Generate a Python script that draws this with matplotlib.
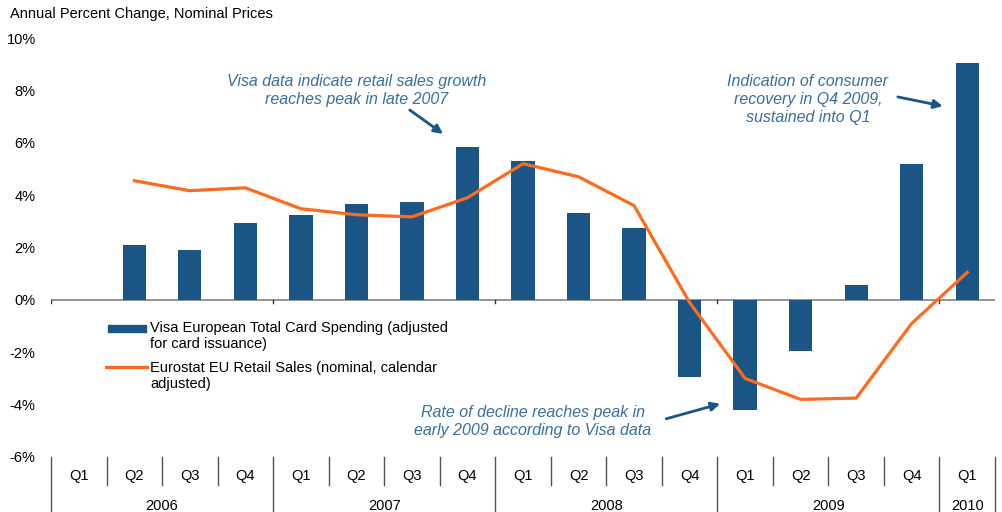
import numpy as np
import matplotlib
matplotlib.use("Agg")
import matplotlib.pyplot as plt
from matplotlib.patches import Rectangle
from matplotlib.lines import Line2D

plt.rcParams['font.family'] = ['Liberation Sans', 'DejaVu Sans']

# ----------------------------
# Data
# ----------------------------
quarters = ['Q1', 'Q2', 'Q3', 'Q4', 'Q1', 'Q2', 'Q3', 'Q4', 'Q1', 'Q2', 'Q3', 'Q4',
            'Q1', 'Q2', 'Q3', 'Q4', 'Q1']
years = ['2006', '2007', '2008', '2009', '2010']
year_counts = [4, 4, 4, 4, 1]

visa = [np.nan, 2.1, 1.9, 2.95, 3.25, 3.67, 3.75, 5.85, 5.3, 3.33, 2.75,
        -2.95, -4.2, -1.95, 0.55, 5.2, 9.03]
eurostat = [np.nan, 4.55, 4.17, 4.28, 3.48, 3.25, 3.17, 3.9, 5.2, 4.7, 3.6,
            -0.1, -3.0, -3.8, -3.75, -0.9, 1.05]

yticks = [-6, -4, -2, 0, 2, 4, 6, 8, 10]

visa_label = 'Visa European Total Card Spending (adjusted\nfor card issuance)'
euro_label = 'Eurostat EU Retail Sales (nominal, calendar\nadjusted)'

bar_col = '#1a5586'
line_col = '#ff6a1c'
note_col = '#3a6f9e'
fs = 10.5
note_fs = 11.5

# ----------------------------
# Plot
# ----------------------------
W, H = 1003, 512
fig = plt.figure(figsize=(W/100, H/100), dpi=100)
ax = fig.add_axes([51/W, 1-457/H, (995-51)/W, (457-38)/H])

def px(x, y):
    # figure pixel position (from top-left) -> figure fraction
    return x / W, 1 - y / H

x = np.arange(len(quarters))
ax.bar(x, visa, width=0.42, color=bar_col, zorder=2)
ax.plot(x, eurostat, color=line_col, linewidth=2.3, zorder=3)

ax.set_xlim(-0.5, len(quarters) - 0.5)
ax.set_ylim(-6, 10)
ax.set_yticks(yticks)
ax.set_yticklabels(['%d%%' % v for v in yticks], fontsize=fs)
ax.tick_params(axis='y', length=0, pad=11)
ax.set_xticks([])
for s in ax.spines.values():
    s.set_visible(False)

# zero line with small ticks at year boundaries
ax.axhline(0, color='#808080', linewidth=1.2, zorder=1)
bounds = np.cumsum([0] + year_counts) - 0.5
for b in bounds[:-1]:
    ax.plot([b, b], [0, -0.12], color='#333333', linewidth=1, zorder=1)

fig.text(*px(10, 14), 'Annual Percent Change, Nominal Prices', fontsize=fs,
         ha='left', va='center')

# category axis below the plot
trans = ax.get_xaxis_transform()
for i, q in enumerate(quarters):
    ax.text(i, -0.045, q, transform=trans, ha='center', va='center', fontsize=fs)
for i in range(len(quarters) + 1):
    b = i - 0.5
    if b in bounds:
        continue
    ax.plot([b, b], [0, -0.067], transform=trans, color='#555555', linewidth=1, clip_on=False)
for b in bounds:
    ax.plot([b, b], [0, -0.132], transform=trans, color='#555555', linewidth=1, clip_on=False)
for k, yr in enumerate(years):
    ax.text((bounds[k] + bounds[k+1]) / 2, -0.117, yr, transform=trans,
            ha='center', va='center', fontsize=fs)

# annotations
arrow = dict(arrowstyle='-|>', color=bar_col, lw=2, mutation_scale=13, shrinkA=0, shrinkB=0)
ax.text(5.0, 8.0, 'Visa data indicate retail sales growth\nreaches peak in late 2007',
        ha='center', va='center', fontsize=note_fs, style='italic', color=note_col,
        linespacing=1.25)
ax.annotate('', xy=(6.56, 6.34), xytext=(5.96, 7.25), arrowprops=arrow)

ax.text(13.13, 7.67, 'Indication of consumer\nrecovery in Q4 2009,\nsustained into Q1',
        ha='center', va='center', fontsize=note_fs, style='italic', color=note_col,
        linespacing=1.25)
ax.annotate('', xy=(15.56, 7.4), xytext=(14.75, 7.75), arrowprops=arrow)

ax.text(8.18, -4.64, 'Rate of decline reaches peak in\nearly 2009 according to Visa data',
        ha='center', va='center', fontsize=note_fs, style='italic', color=note_col,
        linespacing=1.25)
ax.annotate('', xy=(11.55, -3.97), xytext=(10.58, -4.54), arrowprops=arrow)

# legend (handles aligned with the first line of each label)
x0, y0 = px(108, 332)
x1, y1 = px(146, 325)
fig.add_artist(Rectangle((x0, y0), x1 - x0, y1 - y0, transform=fig.transFigure,
                         color=bar_col))
fig.add_artist(Line2D([px(106, 0)[0], px(147, 0)[0]], [px(0, 367)[1]] * 2,
                      transform=fig.transFigure, color=line_col, linewidth=2.3))
fig.text(*px(150, 321), visa_label, fontsize=fs, ha='left', va='top', linespacing=1.2)
fig.text(*px(150, 361), euro_label, fontsize=fs, ha='left', va='top', linespacing=1.2)

fig.savefig('out.png', dpi=100)
